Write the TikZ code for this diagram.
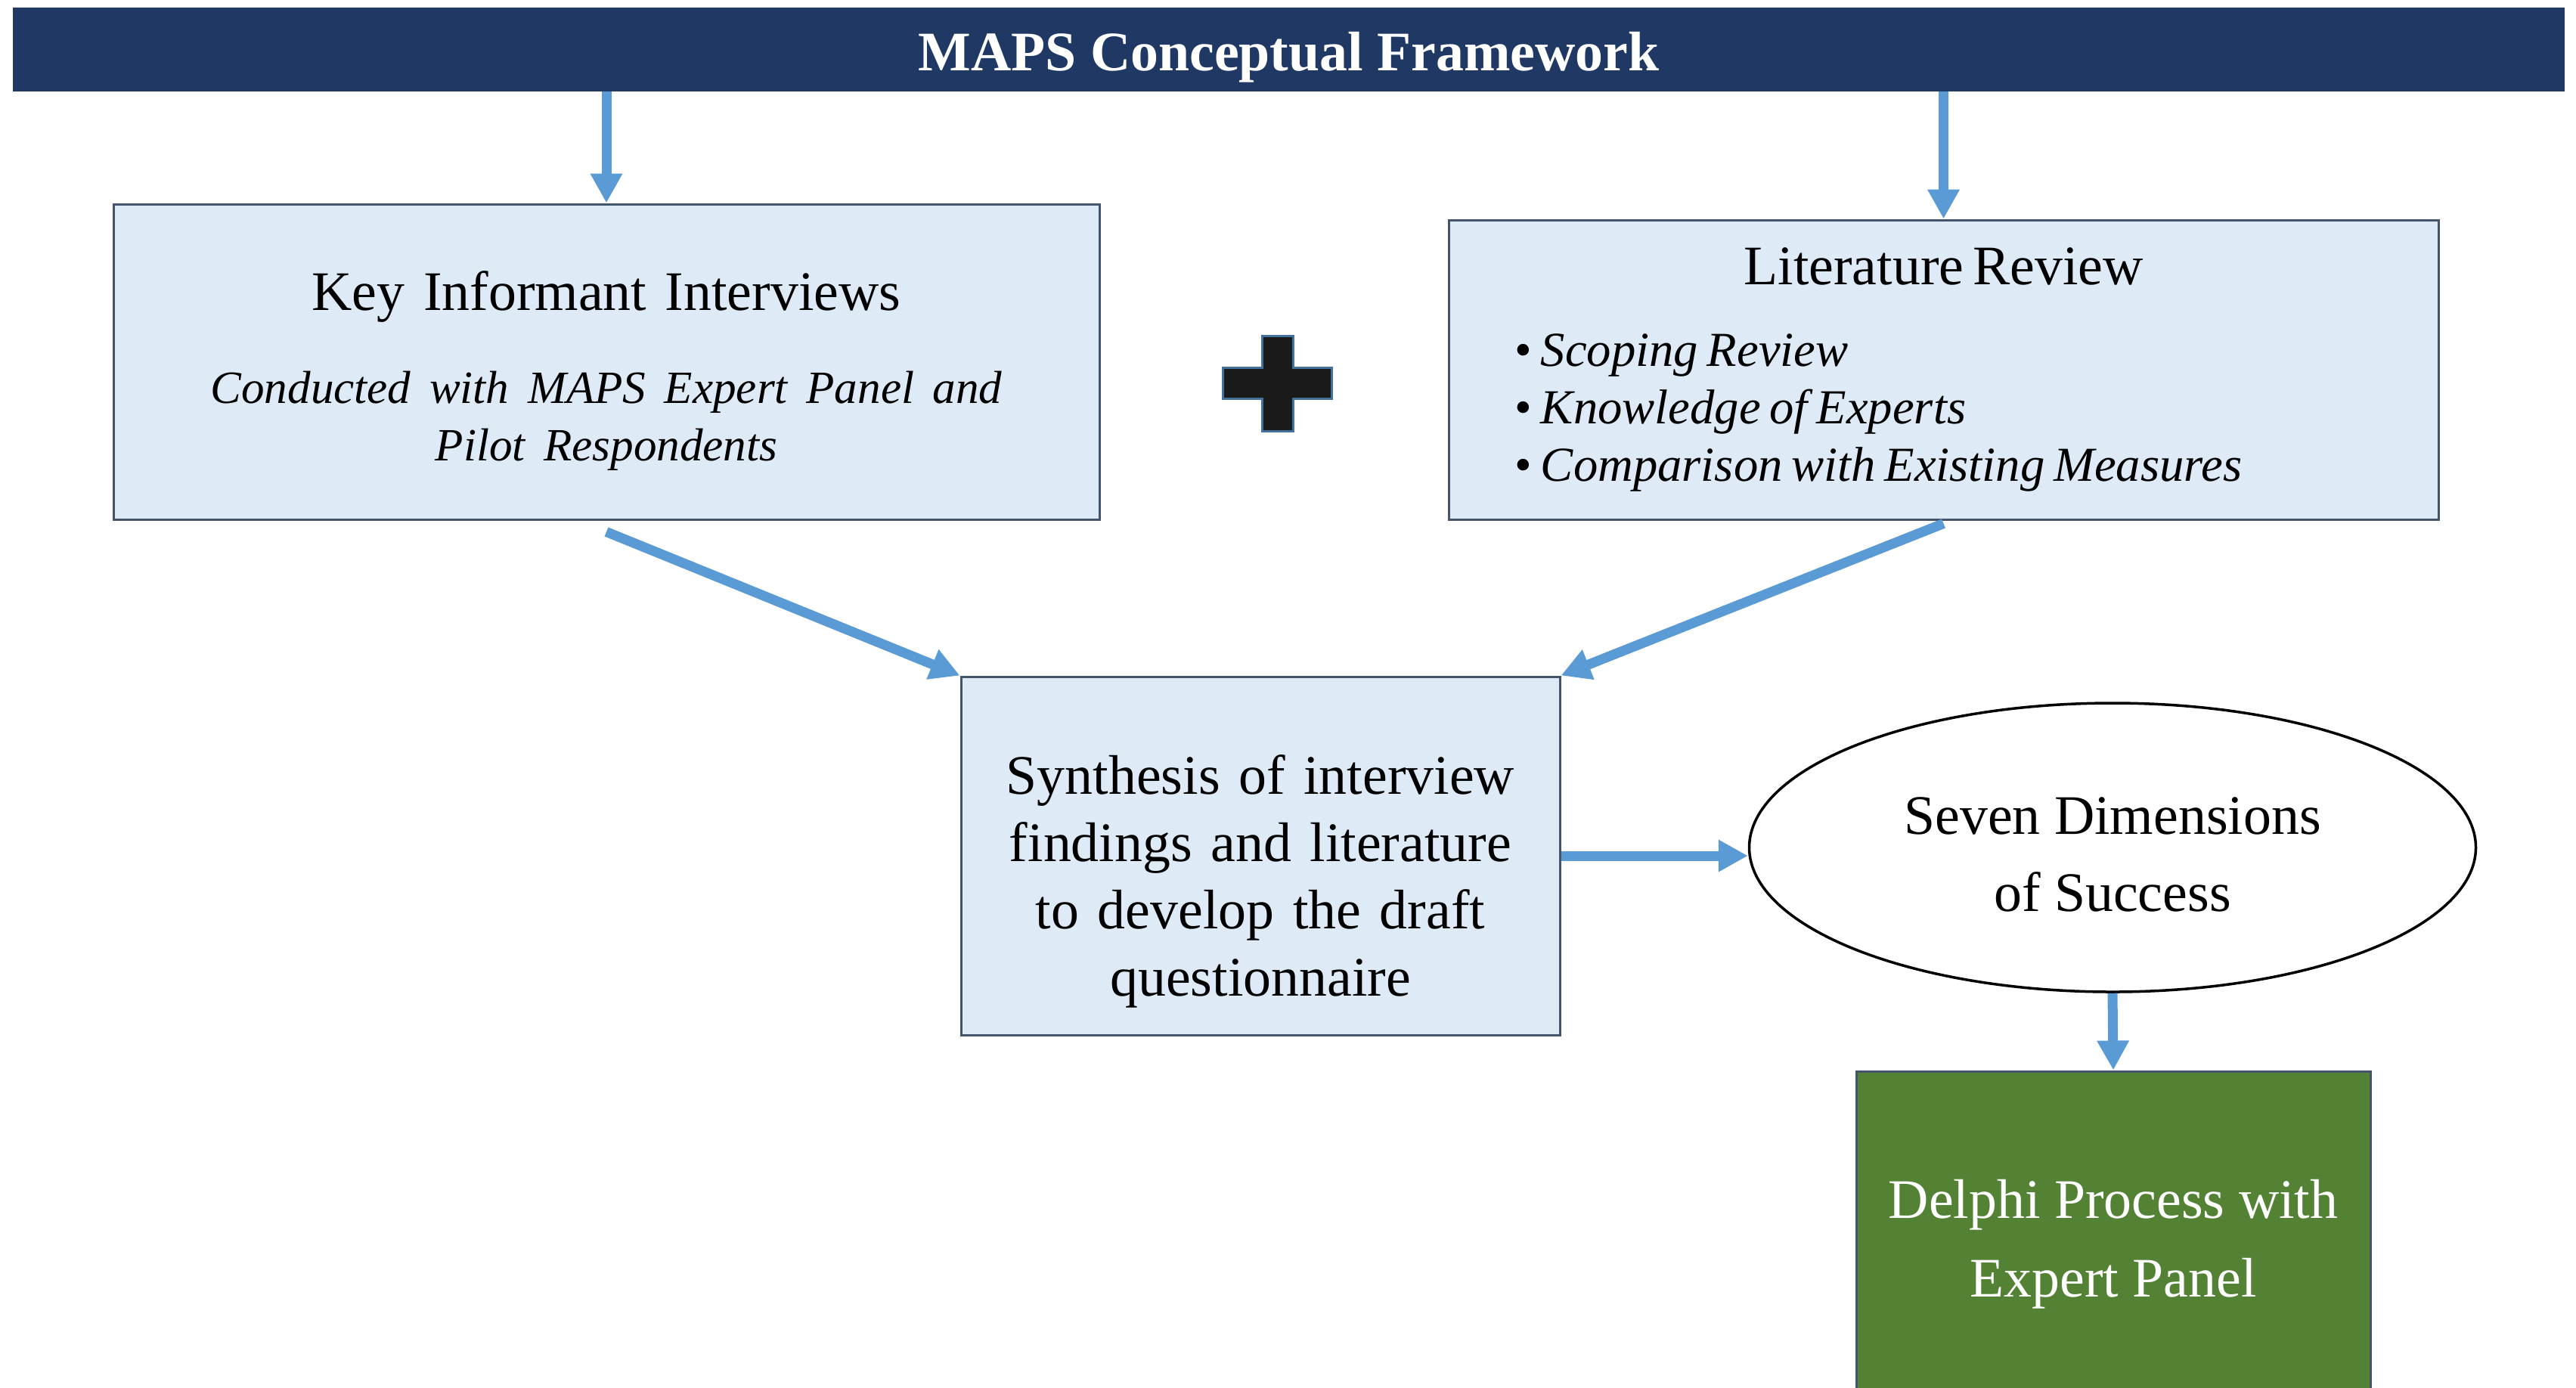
\documentclass[tikz,border=0pt]{standalone}
\usepackage{fontspec}
\setmainfont{Liberation Serif}
\usetikzlibrary{arrows.meta,shapes.geometric}

\definecolor{navy}{RGB}{32,56,100}
\definecolor{paleblue}{RGB}{222,235,247}
\definecolor{slate}{RGB}{68,84,106}
\definecolor{skyblue}{RGB}{91,155,213}
\definecolor{leafgreen}{RGB}{84,130,53}
\definecolor{plusgrey}{RGB}{26,26,26}
\definecolor{plusedge}{RGB}{65,113,156}

\begin{document}
\begin{tikzpicture}
        [title/.style={rectangle, fill=navy, text=white, minimum width=33.75cm, minimum height=1.09cm, font=\fontsize{21}{25}\selectfont\bfseries},
        box/.style={rectangle, draw=slate, fill=paleblue, line width=0.03cm},
        oval/.style={ellipse, draw=black, fill=white, line width=0.035cm, align=center, font=\fontsize{21}{29}\selectfont},
        link/.style={draw=skyblue, line width=0.13cm, -{Triangle[length=0.39cm,width=0.40cm]}},
        plussign/.style={fill=plusgrey, draw=plusedge, line width=0.03cm}]

        \useasboundingbox (0,0) rectangle (34.07,-18.35);

        % Title bar
        \node[title] (title) at (17.045,-0.655) {\rule{0pt}{20.3pt}MAPS Conceptual Framework};

        % The two sources
        \node[box, minimum width=13.04cm, minimum height=4.17cm, text width=12cm, font=\fontsize{21}{25}\selectfont] (key) at (8.02,-4.785)
            {\centering\rule{0pt}{21.4pt}Key Informant Interviews\\[13.4pt]{\fontsize{17.4}{21.6}\selectfont\itshape Conducted with MAPS Expert Panel and\\ Pilot Respondents\par}};
        \node[box, minimum width=13.09cm, minimum height=3.96cm, text width=11.34cm, inner sep=0pt] (lit) at (25.705,-4.89)
            {{\centering\fontsize{21}{25}\selectfont Literature Review\par}\vspace{9pt}{\raggedright\fontsize{18.4}{21.6}\selectfont\itshape
            \textup{\textbullet} Scoping Review\\
            \textup{\textbullet} Knowledge of Experts\\
            \textup{\textbullet} Comparison with Existing Measures\par}};

        % Plus sign between the sources
        \coordinate (plus) at (16.895,-5.07);
        \draw[plussign] (plus) ++(-0.205,0.63) -- ++(0.41,0) -- ++(0,-0.425) -- ++(0.515,0) -- ++(0,-0.41) -- ++(-0.515,0)
            -- ++(0,-0.425) -- ++(-0.41,0) -- ++(0,0.425) -- ++(-0.515,0) -- ++(0,0.41) -- ++(0.515,0) -- cycle;

        % Synthesis and outcomes
        \node[box, minimum width=7.92cm, minimum height=4.74cm, text width=7.2cm, font=\fontsize{21}{25.4}\selectfont] (synth) at (16.67,-11.32)
            {\centering\rule{0pt}{34pt}Synthesis of interview\\ findings and literature\\ to develop the draft\\ questionnaire\par};
        \node[oval, minimum width=9.61cm, minimum height=3.82cm] (dims) at (27.94,-11.21) {\rule{0pt}{19.3pt}Seven Dimensions\\ of Success};
        \node[box, fill=leafgreen, text=white, minimum width=6.80cm, minimum height=4.58cm, align=center, font=\fontsize{21}{29.7}\selectfont] (delphi) at (27.95,-16.46)
            {Delphi Process with\\ Expert Panel};

        % Arrows
        \draw[link] (title.south -| key.north) -- (key.north);
        \draw[link] (title.south -| lit.north) -- (lit.north);
        \draw[link] ([yshift=-0.15cm]key.south) -- (synth.north west);
        \draw[link] ([yshift=-0.04cm]lit.south) -- (synth.north east);
        \draw[link] (synth.east) -- (synth.east -| dims.west);
        \draw[link] (dims.south) -- (delphi.north);

\end{tikzpicture}
\end{document}
